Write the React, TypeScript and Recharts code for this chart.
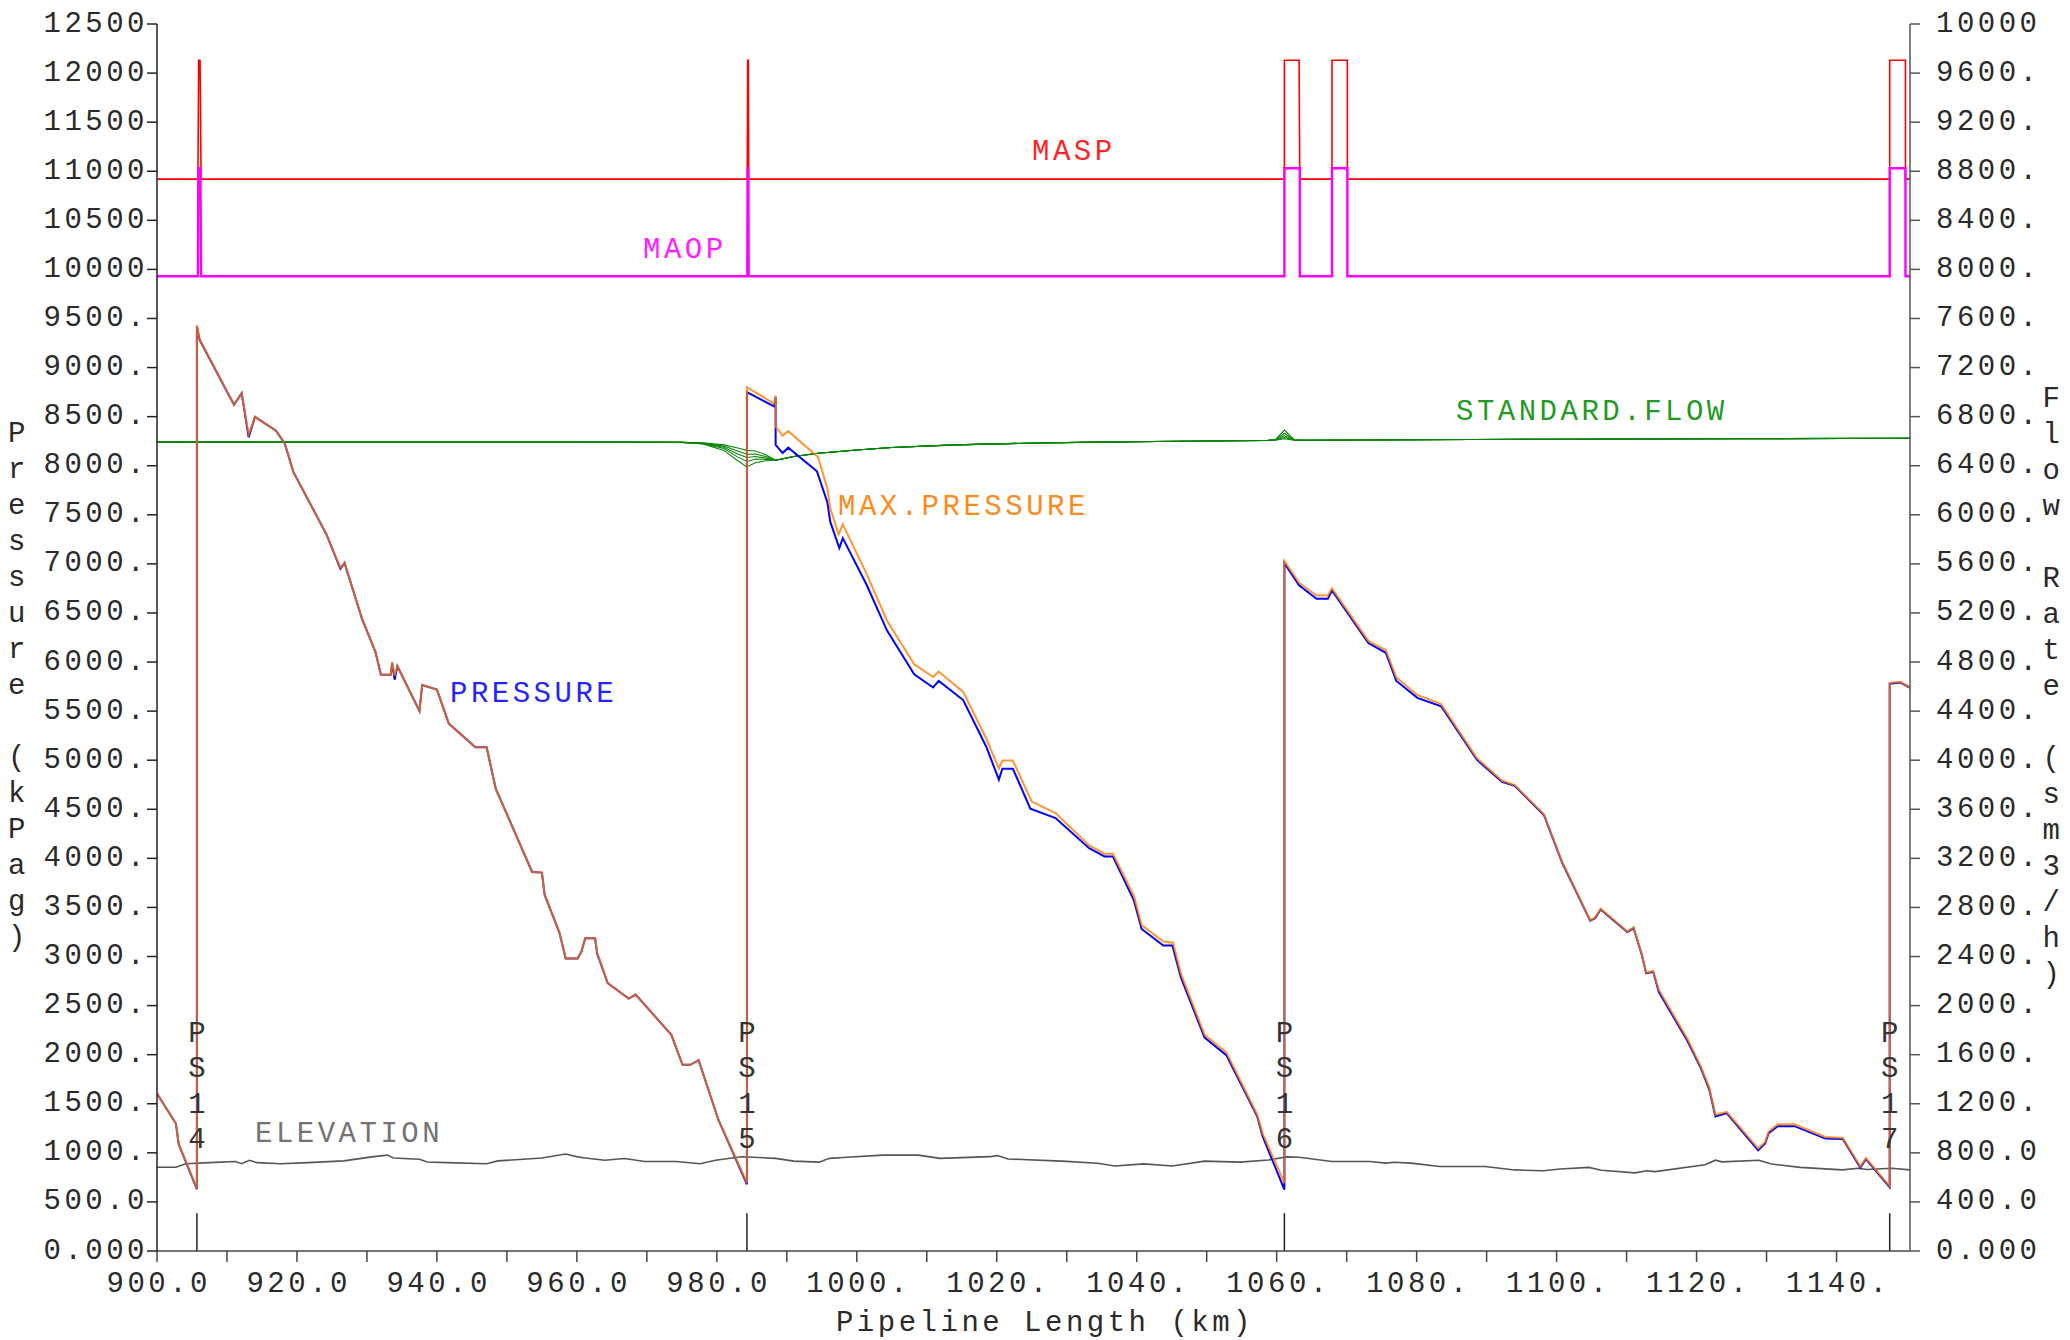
import React from 'react';
import { LineChart, Line, XAxis, YAxis, ReferenceLine, ReferenceDot } from 'recharts';

// ---- axis ticks ----
const KM_TICKS = [900, 910, 920, 930, 940, 950, 960, 970, 980, 990, 1000, 1010, 1020, 1030, 1040, 1050, 1060, 1070, 1080, 1090, 1100, 1110, 1120, 1130, 1140];
const KM_LABELLED = [900, 920, 940, 960, 980, 1000, 1020, 1040, 1060, 1080, 1100, 1120, 1140];
const PRESSURE_TICKS = [0, 500, 1000, 1500, 2000, 2500, 3000, 3500, 4000, 4500, 5000, 5500, 6000, 6500, 7000, 7500, 8000, 8500, 9000, 9500, 10000, 10500, 11000, 11500, 12000, 12500];
const FLOW_TICKS = [0, 400, 800, 1200, 1600, 2000, 2400, 2800, 3200, 3600, 4000, 4400, 4800, 5200, 5600, 6000, 6400, 6800, 7200, 7600, 8000, 8400, 8800, 9200, 9600, 10000];

// ---- pump stations (km) ----
const STATIONS = [
  { name: '14', km: 905.7 },
  { name: '15', km: 984.3 },
  { name: '16', km: 1061.1 },
  { name: '17', km: 1147.6 },
];

// ---- series, [km, value] ----
const MASP: [number, number][] = [
  [900, 10920], [905.85, 10920], [905.95, 12130], [906.15, 12130], [906.3, 10920],
  [984.35, 10920], [984.4, 12130], [984.5, 12130], [984.55, 10920],
  [1061.1, 10920], [1061.1, 12130], [1063.2, 12130], [1063.3, 10920],
  [1067.9, 10920], [1067.9, 12130], [1070.1, 12130], [1070.1, 10920],
  [1147.6, 10920], [1147.6, 12130], [1149.85, 12130], [1149.85, 10920], [1150.5, 10920],
];

const MAOP: [number, number][] = [
  [900, 9930], [905.85, 9930], [905.9, 11030], [906.2, 11030], [906.3, 9930],
  [984.35, 9930], [984.4, 11030], [984.5, 11030], [984.55, 9930],
  [1061.1, 9930], [1061.1, 11030], [1063.3, 11030], [1063.3, 9930],
  [1067.9, 9930], [1067.9, 11030], [1070.1, 11030], [1070.1, 9930],
  [1147.6, 9930], [1147.6, 11030], [1149.85, 11030], [1149.85, 9930], [1150.5, 9930],
];

const MAX_PRESSURE: [number, number][] = [
  [900.0, 1603], [902.7, 1299], [903.1, 1088], [905.7, 637], [905.7, 9430], [906.1, 9283],
  [911.0, 8621], [912.1, 8738], [913.1, 8320], [914.0, 8498], [917.0, 8357], [918.25, 8228],
  [919.5, 7935], [924.2, 7302], [926.2, 6962], [926.8, 7009], [929.3, 6440], [931.2, 6106],
  [932.0, 5871], [933.4, 5871], [933.6, 6000], [933.96, 5860], [934.35, 5959], [937.5, 5502],
  [937.9, 5766], [940.0, 5719], [941.7, 5373], [945.5, 5133], [947.1, 5133], [948.4, 4711],
  [953.6, 3861], [955.0, 3855], [955.4, 3627], [957.5, 3245], [958.4, 2981], [960.1, 2981],
  [960.6, 3040], [961.2, 3186], [962.6, 3186], [962.9, 3040], [964.4, 2729], [967.4, 2571],
  [968.4, 2612], [973.5, 2202], [975.1, 1897], [976.2, 1897], [977.4, 1944], [980.2, 1340],
  [984.3, 695], [984.3, 8800], [988.2, 8632], [988.4, 8715], [988.4, 8397], [989.4, 8307],
  [990.2, 8352], [994.45, 8089], [995.8, 7765], [996.2, 7569], [997.4, 7301], [998.0, 7402],
  [1001.4, 6898], [1004.3, 6423], [1008.2, 5976], [1010.9, 5847], [1011.7, 5903], [1015.2, 5696],
  [1018.5, 5221], [1020.3, 4914], [1020.8, 4997], [1022.3, 4997], [1025.0, 4578], [1028.4, 4461],
  [1033.2, 4131], [1035.4, 4047], [1036.6, 4047], [1039.6, 3617], [1040.7, 3320], [1043.8, 3153],
  [1045.2, 3141], [1046.3, 2828], [1049.7, 2202], [1052.8, 2023], [1057.2, 1391], [1058.0, 1196],
  [1061.1, 693], [1061.1, 7030], [1063.2, 6807], [1065.7, 6678], [1067.3, 6678], [1067.9, 6751],
  [1073.1, 6215], [1075.6, 6120], [1077.1, 5841], [1080.1, 5665], [1083.5, 5571], [1088.6, 5022],
  [1092.2, 4790], [1094.0, 4747], [1098.2, 4447], [1100.8, 3962], [1104.8, 3370], [1105.5, 3396],
  [1106.3, 3486], [1110.1, 3254], [1111.0, 3297], [1112.2, 3018], [1112.8, 2834], [1113.8, 2851],
  [1114.6, 2662], [1118.7, 2160], [1120.6, 1881], [1121.8, 1667], [1122.7, 1388], [1124.3, 1418],
  [1128.8, 1045], [1129.8, 1110], [1130.3, 1217], [1131.6, 1290], [1134.0, 1290], [1138.4, 1161],
  [1140.9, 1152], [1143.4, 861], [1144.2, 946], [1147.6, 659], [1147.6, 5786], [1149.1, 5798],
  [1150.5, 5743],
];

const PRESSURE: [number, number][] = [
  [900.0, 1603], [902.7, 1299], [903.1, 1088], [905.7, 630], [905.7, 9420], [906.1, 9280],
  [911.0, 8621], [912.1, 8738], [913.1, 8290], [914.0, 8498], [917.0, 8357], [918.25, 8228],
  [919.5, 7935], [924.2, 7302], [926.2, 6950], [926.8, 7009], [929.3, 6440], [931.2, 6106],
  [932.0, 5871], [933.4, 5871], [933.6, 5990], [933.96, 5820], [934.35, 5959], [937.5, 5502],
  [937.9, 5766], [940.0, 5719], [941.7, 5373], [945.5, 5133], [947.1, 5133], [948.4, 4711],
  [953.6, 3861], [955.0, 3855], [955.4, 3627], [957.5, 3245], [958.4, 2981], [960.1, 2981],
  [960.6, 3040], [961.2, 3186], [962.6, 3186], [962.9, 3030], [964.4, 2729], [967.4, 2571],
  [968.4, 2612], [973.5, 2202], [975.1, 1897], [976.2, 1897], [977.4, 1944], [980.2, 1340],
  [984.3, 680], [984.3, 8750], [988.2, 8604], [988.4, 8699], [988.4, 8212], [989.4, 8129],
  [990.2, 8184], [994.3, 7944], [995.8, 7625], [996.2, 7430], [997.5, 7161], [998.0, 7262],
  [1001.4, 6787], [1004.3, 6323], [1008.2, 5875], [1010.9, 5741], [1011.7, 5808], [1015.2, 5613],
  [1018.5, 5137], [1020.3, 4802], [1020.8, 4914], [1022.3, 4914], [1024.8, 4506], [1028.4, 4410],
  [1033.2, 4103], [1035.4, 4019], [1036.6, 4019], [1039.6, 3572], [1040.7, 3281], [1043.8, 3113],
  [1045.1, 3113], [1046.3, 2789], [1049.7, 2174], [1052.8, 1995], [1057.2, 1375], [1058.0, 1168],
  [1061.1, 625], [1061.1, 7008], [1063.2, 6781], [1065.7, 6644], [1067.3, 6644], [1067.9, 6729],
  [1073.1, 6193], [1075.6, 6094], [1077.1, 5807], [1080.1, 5635], [1083.5, 5550], [1088.6, 5005],
  [1092.2, 4780], [1094.0, 4740], [1098.2, 4440], [1100.8, 3955], [1104.8, 3365], [1105.5, 3390],
  [1106.3, 3480], [1110.1, 3250], [1111.0, 3290], [1112.2, 3010], [1112.8, 2828], [1113.8, 2845],
  [1114.6, 2640], [1118.7, 2140], [1120.6, 1865], [1121.8, 1650], [1122.7, 1370], [1124.3, 1405],
  [1128.8, 1025], [1129.8, 1095], [1130.3, 1200], [1131.6, 1272], [1134.0, 1272], [1138.4, 1145],
  [1140.9, 1140], [1143.4, 850], [1144.2, 935], [1147.6, 650], [1147.6, 5780], [1149.1, 5792],
  [1150.5, 5738],
];

const ELEVATION: [number, number][] = [
  [900, 853], [902.7, 853], [904.1, 889], [907.5, 900], [911.2, 912], [912.1, 889], [913.2, 924],
  [914.3, 900], [917.7, 889], [921.6, 900], [926.7, 918], [930.7, 959], [932.9, 977], [933.8, 947],
  [937.5, 935], [938.6, 906], [941.4, 900], [947.1, 889], [948.7, 918], [955, 947], [958.4, 988],
  [960.1, 959], [961.2, 947], [964, 924], [966.8, 942], [969.7, 912], [974.2, 912], [977.6, 889],
  [979.8, 924], [983.5, 960], [988.4, 944], [991, 916], [994.6, 905], [996.1, 944], [998.6, 955],
  [1003.7, 977], [1008.8, 977], [1011.9, 944], [1019, 961], [1020.1, 972], [1021.6, 938],
  [1029.3, 916], [1034.4, 894], [1036.9, 866], [1041, 888], [1045.1, 866], [1049.7, 916],
  [1054.8, 905], [1058.8, 927], [1061.4, 959], [1063.2, 955], [1067.9, 912], [1073.3, 912],
  [1075.6, 895], [1076.8, 904], [1079.2, 895], [1083.3, 861], [1089.8, 861], [1094, 826],
  [1098.1, 818], [1100.5, 835], [1104.6, 852], [1106.4, 822], [1111.2, 796], [1112.9, 818],
  [1114.1, 809], [1121.2, 878], [1122.7, 925], [1123.6, 908], [1128.9, 925], [1130.7, 886],
  [1134.8, 852], [1140.8, 826], [1143.1, 843], [1144.3, 831], [1147.9, 843], [1150.5, 826],
];

// standard flow profiles (sm3/h), one per trend time
const FLOW_A: [number, number][] = [
  [900, 6594], [960, 6593], [975, 6590], [978, 6586], [981, 6570], [983, 6545], [984.3, 6525],
  [985.5, 6520], [987, 6490], [988.4, 6445], [991, 6475], [994.5, 6502], [1000, 6528], [1005, 6548],
  [1014, 6570], [1024, 6583], [1034, 6592], [1046, 6600], [1058.5, 6606], [1059.8, 6612],
  [1061.1, 6690], [1062.5, 6612], [1064, 6607], [1080, 6612], [1100, 6616], [1125, 6620], [1150.5, 6624],
];
const FLOW_B: [number, number][] = [
  [900, 6594], [960, 6593], [975, 6590], [978, 6584], [981, 6560], [983, 6520], [984.3, 6493],
  [985.5, 6495], [987, 6475], [988.4, 6445], [991, 6475], [994.5, 6502], [1000, 6528], [1005, 6548],
  [1014, 6570], [1024, 6583], [1034, 6592], [1046, 6600], [1058.5, 6606], [1059.8, 6611],
  [1061.1, 6665], [1062.5, 6611], [1064, 6607], [1080, 6612], [1100, 6616], [1125, 6620], [1150.5, 6624],
];
const FLOW_C: [number, number][] = [
  [900, 6594], [960, 6593], [975, 6590], [978, 6582], [981, 6550], [983, 6495], [984.3, 6467],
  [985.5, 6475], [987, 6462], [988.4, 6445], [991, 6475], [994.5, 6502], [1000, 6528], [1005, 6548],
  [1014, 6570], [1024, 6583], [1034, 6592], [1046, 6600], [1058.5, 6606], [1059.8, 6610],
  [1061.1, 6645], [1062.5, 6610], [1064, 6607], [1080, 6612], [1100, 6616], [1125, 6620], [1150.5, 6624],
];
const FLOW_D: [number, number][] = [
  [900, 6594], [960, 6593], [975, 6590], [978, 6580], [981, 6540], [983, 6470], [984.3, 6435],
  [985.5, 6455], [987, 6452], [988.4, 6445], [991, 6475], [994.5, 6502], [1000, 6528], [1005, 6548],
  [1014, 6570], [1024, 6583], [1034, 6592], [1046, 6600], [1058.5, 6606], [1059.8, 6609],
  [1061.1, 6630], [1062.5, 6609], [1064, 6607], [1080, 6612], [1100, 6616], [1125, 6620], [1150.5, 6624],
];
const FLOW_E: [number, number][] = [
  [900, 6594], [960, 6593], [975, 6590], [978, 6578], [981, 6525], [983, 6440], [984.3, 6390],
  [985.5, 6425], [987, 6440], [988.4, 6445], [991, 6475], [994.5, 6502], [1000, 6528], [1005, 6548],
  [1014, 6570], [1024, 6583], [1034, 6592], [1046, 6600], [1058.5, 6606], [1059.8, 6608],
  [1061.1, 6620], [1062.5, 6608], [1064, 6607], [1080, 6612], [1100, 6616], [1125, 6620], [1150.5, 6624],
];
const FLOWS = [FLOW_A, FLOW_B, FLOW_C, FLOW_D, FLOW_E];

const FONT = "'Liberation Mono', 'DejaVu Sans Mono', monospace";
const FS = 29;
const LS = 3.5;

const rows = (pts: [number, number][]) => pts.map(([km, v]) => ({ km, v }));

// five character numeric labels: 12500, 9500., 500.0, 0.000
function fmt5(v: number): string {
  if (v === 0) return '0.000';
  const s = String(v);
  if (s.length >= 5) return s;
  if (s.length === 4) return s + '.';
  return v.toFixed(4 - s.length);
}

const txt = { fontFamily: FONT, fontSize: FS, letterSpacing: LS, fill: '#2a2a2a' };

const LeftTick = ({ x, y, payload }: any) => (
  <text x={x + 1} y={y} textAnchor="end" dominantBaseline="central" style={txt}>
    {fmt5(payload.value)}
  </text>
);

const RightTick = ({ x, y, payload }: any) => (
  <text x={x} y={y} textAnchor="start" dominantBaseline="central" style={txt}>
    {fmt5(payload.value)}
  </text>
);

const BottomTick = ({ x, y, payload }: any) =>
  KM_LABELLED.includes(payload.value) ? (
    <text x={x + LS / 2} y={y + 30} textAnchor="middle" style={txt}>
      {fmt5(payload.value)}
    </text>
  ) : null;

// "PS" + number stacked one character per row, centred on the station line
const StationLabel = (name: string) => (p: any) => {
  const chars = ['P', 'S', ...name.split('')];
  return (
    <g>
      {chars.map((c, i) => (
        <text key={i} x={p.cx + LS / 2} y={p.cy + i * 35.5} textAnchor="middle"
          dominantBaseline="central" style={{ ...txt, fill: '#333' }}>
          {c}
        </text>
      ))}
    </g>
  );
};

const SERIES_LABELS = [
  { text: 'MASP', x: 1032, y: 160, color: '#ff2424' },
  { text: 'MAOP', x: 643, y: 258, color: '#ff22ff' },
  { text: 'STANDARD.FLOW', x: 1456, y: 420, color: '#229a22' },
  { text: 'MAX.PRESSURE', x: 838, y: 515, color: '#ff8a1c' },
  { text: 'PRESSURE', x: 450, y: 702, color: '#2424ff' },
  { text: 'ELEVATION', x: 255, y: 1142, color: '#737373' },
];

const VerticalTitle = ({ text, x, y0 }: { text: string; x: number; y0: number }) => (
  <g>
    {text.split('').map((c, i) => (
      <text key={i} x={x} y={y0 + i * 36} textAnchor="middle" dominantBaseline="central" style={txt}>
        {c}
      </text>
    ))}
  </g>
);

export default function App() {
  return (
    <div style={{ position: 'absolute', left: 0, top: 0, width: 2070, height: 1340, background: '#fff' }}>
      <LineChart width={2070} height={1340} margin={{ top: 24, right: 10, bottom: 29, left: 7 }}>
        <XAxis
          type="number"
          dataKey="km"
          domain={[900, 1150.5]}
          ticks={KM_TICKS}
          interval={0}
          allowDataOverflow
          height={60}
          tickSize={11}
          tickMargin={0}
          tick={<BottomTick />}
          stroke="#444"
          strokeWidth={1.5}
        />
        <YAxis
          yAxisId="p"
          orientation="left"
          domain={[0, 12500]}
          ticks={PRESSURE_TICKS}
          interval={0}
          allowDataOverflow
          width={150}
          tickSize={10}
          tickMargin={0}
          tick={<LeftTick />}
          stroke="#222"
          strokeWidth={1.5}
        />
        <YAxis
          yAxisId="f"
          orientation="right"
          domain={[0, 10000]}
          ticks={FLOW_TICKS}
          interval={0}
          allowDataOverflow
          width={150}
          tickSize={10}
          tickMargin={16}
          tick={<RightTick />}
          stroke="#555"
          strokeWidth={1.5}
        />

        <Line yAxisId="p" data={rows(MASP)} dataKey="v" stroke="#ff0000" strokeWidth={1.6}
          dot={false} isAnimationActive={false} />
        <Line yAxisId="p" data={rows(MAOP)} dataKey="v" stroke="#ff00ff" strokeWidth={2.4}
          dot={false} isAnimationActive={false} />
        <Line yAxisId="p" data={rows(ELEVATION)} dataKey="v" stroke="#555" strokeWidth={1.6}
          dot={false} isAnimationActive={false} />
        {FLOWS.map((f, i) => (
          <Line key={i} yAxisId="f" data={rows(f)} dataKey="v" stroke="#0a860a" strokeWidth={1.1}
            dot={false} isAnimationActive={false} />
        ))}
        <Line yAxisId="p" data={rows(PRESSURE)} dataKey="v" stroke="#0000ff" strokeWidth={2}
          dot={false} isAnimationActive={false} />
        <Line yAxisId="p" data={rows(MAX_PRESSURE)} dataKey="v" stroke="#ff7a00" strokeOpacity={0.8}
          strokeWidth={2} dot={false} isAnimationActive={false} />

        {STATIONS.map((s) => (
          <ReferenceLine key={'l' + s.name} yAxisId="p" segment={[{ x: s.km, y: 0 }, { x: s.km, y: 385 }]}
            stroke="#222" strokeWidth={1.5} />
        ))}
        {STATIONS.map((s) => (
          <ReferenceDot key={'d' + s.name} yAxisId="p" x={s.km} y={2209} shape={StationLabel(s.name)} />
        ))}
      </LineChart>

      <svg width={2070} height={1340} style={{ position: 'absolute', left: 0, top: 0, pointerEvents: 'none' }}>
        {SERIES_LABELS.map((l) => (
          <text key={l.text} x={l.x} y={l.y} style={{ ...txt, fill: l.color }}>
            {l.text}
          </text>
        ))}
        <VerticalTitle text="Pressure (kPag)" x={18.5} y0={434} />
        <VerticalTitle text="Flow Rate (sm3/h)" x={2053} y0={399} />
        <text x={1045} y={1331} textAnchor="middle" style={txt}>
          Pipeline Length (km)
        </text>
      </svg>
    </div>
  );
}
